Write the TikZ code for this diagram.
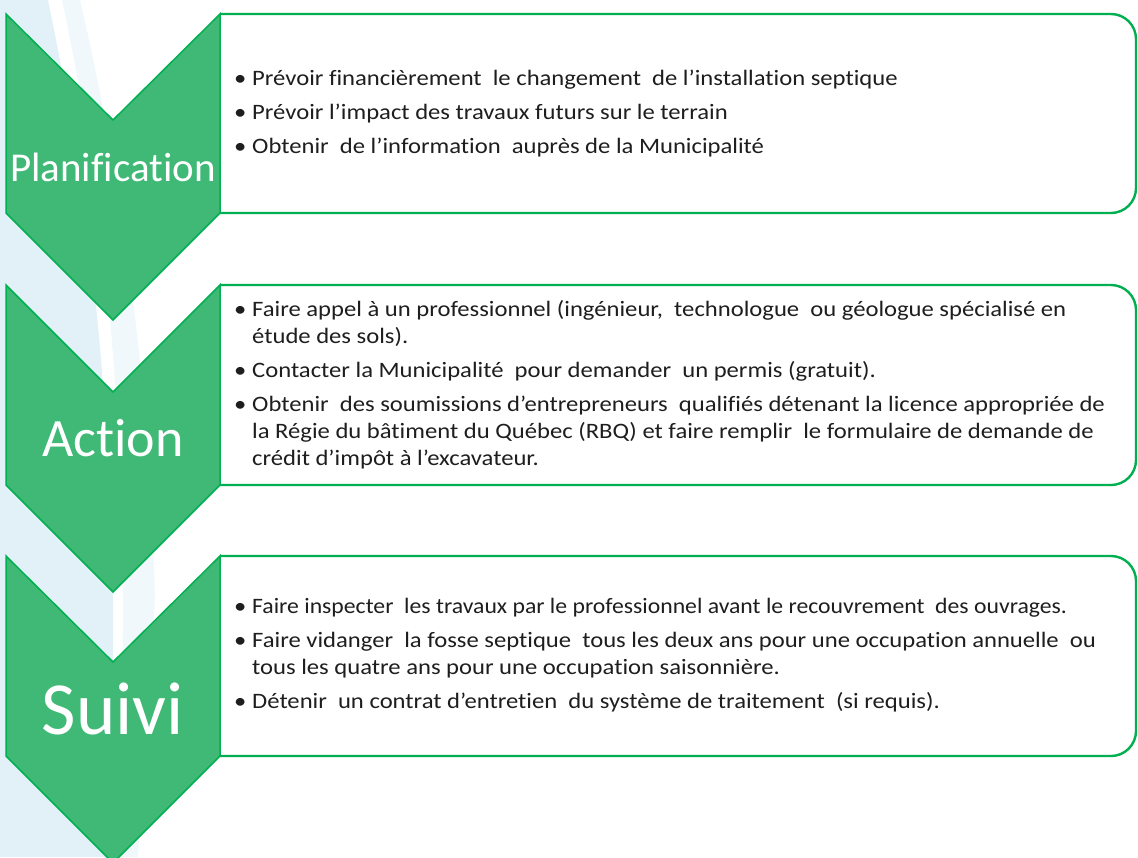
\documentclass[tikz,border=0pt]{standalone}
\usepackage{graphicx}
\usepackage{fontspec}
\setmainfont{Carlito}[Ligatures=NoCommon]
\newfontfamily\bodyfont{Carlito}[Ligatures=NoCommon,FakeStretch=1.12]
\definecolor{chevfill}{RGB}{64,185,119}
\definecolor{chevline}{RGB}{0,176,80}
\definecolor{boxline}{RGB}{0,176,80}
\definecolor{bgblue}{RGB}{225,241,247}
\definecolor{bglight}{RGB}{240,248,251}
\definecolor{txt}{RGB}{30,30,30}
\newcommand{\bul}{\makebox[18pt][l]{•}}
\newcommand{\ind}{\hspace*{18pt}}
\begin{document}
\begin{tikzpicture}[x=1pt,y=-1pt,
  chevron/.style={fill=chevfill,draw=chevline,line width=1.5pt,line join=miter},
  stepframe/.style={fill=white,draw=boxline,line width=2.4pt,rounded corners=25pt},
  bodytext/.style={anchor=west,align=left,inner sep=0pt,text=txt,font=\bodyfont\fontsize{22}{27}\selectfont},
  label/.style={anchor=center,inner sep=0pt,text=white}]
\useasboundingbox (0,0) rectangle (1138,857);
\clip (0,0) rectangle (1138,857);
% background stripes
\fill[bgblue] (0,0) -- (48,0) .. controls (85,180) and (108,350) .. (113,600) -- (113,857) -- (0,857) -- cycle;
\fill[bglight] (62,0) .. controls (100,180) and (120,350) .. (123,600) -- (121,857) -- (138,857) -- (155,600) .. controls (150,380) and (120,170) .. (80,0) -- cycle;
% frames
\draw[stepframe] (220,14) -- (1136,14) -- (1136,213) -- (220,213);
\draw[stepframe] (220,285) -- (1136,285) -- (1136,485) -- (220,485);
\draw[stepframe] (220,556) -- (1136,556) -- (1136,756) -- (220,756);
% chevrons
\draw[chevron] (6,14) -- (113,120) -- (220,14) -- (220,213) -- (113,320) -- (6,213) -- cycle;
\draw[chevron] (6,285) -- (113,392) -- (220,285) -- (220,485) -- (113,592) -- (6,485) -- cycle;
\draw[chevron] (6,556) -- (113,662) -- (220,556) -- (220,756) -- (113,863) -- (6,756) -- cycle;
% labels
\node[label,font=\fontsize{41}{41}\selectfont] (lab1) at (113,167) {Planification};
\node[label,font=\fontsize{54}{54}\selectfont] (lab2) at (113,438) {Action};
\node[label,font=\fontsize{75}{75}\selectfont] (lab3) at (113,709) {Suivi};
% texts
\node[bodytext] (t1) at (234,113.5) {\bul Prévoir financièrement\ \ le changement\ \ de l’installation septique\\[7pt]
\bul Prévoir l’impact des travaux futurs sur le terrain\\[7pt]
\bul Obtenir\ \ de l’information\ \ auprès de la Municipalité};
\node[bodytext] (t2) at (234,385) {\bul Faire appel à un professionnel (ingénieur,\ \ technologue\ \ ou géologue spécialisé en\\
\ind étude des sols).\\[7pt]
\bul Contacter la Municipalité\ \ pour demander\ \ un permis (gratuit).\\[7pt]
\bul Obtenir\ \ des soumissions d’entrepreneurs\ \ qualifiés détenant la licence appropriée de\\
\ind la Régie du bâtiment du Québec (RBQ) et faire remplir\ \ le formulaire de demande de\\
\ind crédit d’impôt à l’excavateur.};
\node[bodytext] (t3) at (234,655.5) {\bul \scalebox{0.962}[1]{Faire inspecter\ \ les travaux par le professionnel avant le recouvrement\ \ des ouvrages.}\\[7pt]
\bul Faire vidanger\ \ la fosse septique\ \ tous les deux ans pour une occupation annuelle\ \ ou\\
\ind tous les quatre ans pour une occupation saisonnière.\\[7pt]
\bul Détenir\ \ un contrat d’entretien\ \ du système de traitement\ \ (si requis).};
\end{tikzpicture}
\end{document}
